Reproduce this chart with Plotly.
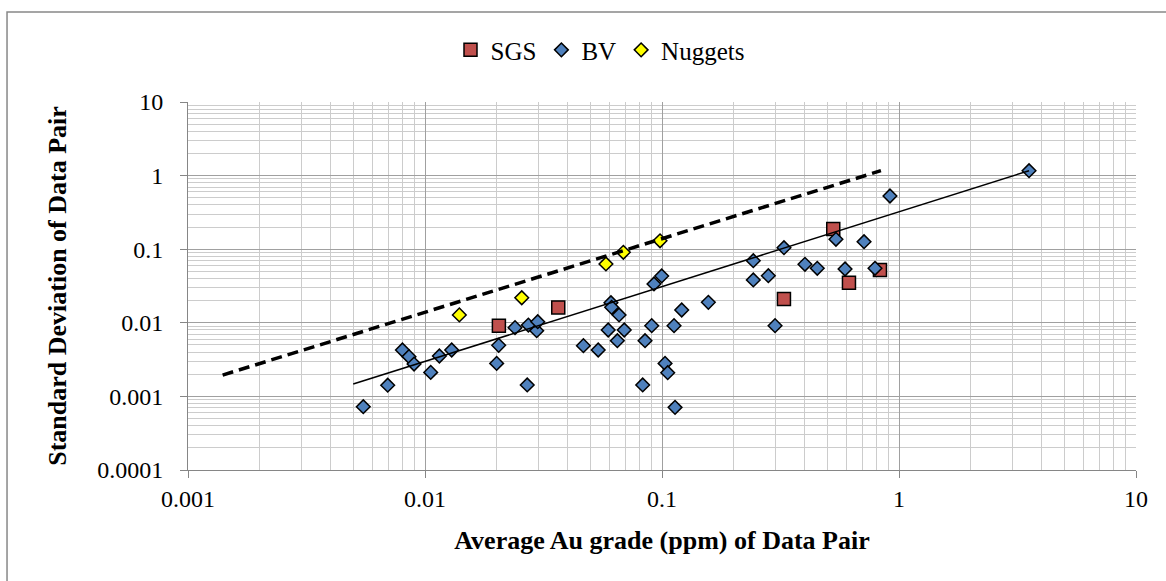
import plotly.graph_objects as go

# ---- data ----
sgs_x = [0.0205, 0.0365, 0.327, 0.528, 0.615, 0.831]
sgs_y = [0.00914, 0.0162, 0.0211, 0.188, 0.0351, 0.0521]

bv_x = [0.00549, 0.00696, 0.00803, 0.00856, 0.00899, 0.01057, 0.0115, 0.01296,
        0.02006, 0.02046, 0.02398, 0.0270, 0.0273, 0.0296, 0.0299, 0.0466,
        0.0538, 0.0593, 0.0609, 0.0613, 0.0659, 0.0648, 0.0693, 0.0829,
        0.0848, 0.0905, 0.0925, 0.0997, 0.1030, 0.1057, 0.1135, 0.1124,
        0.1211, 0.1569, 0.2428, 0.2428, 0.2810, 0.3271, 0.2999, 0.401,
        0.452, 0.542, 0.592, 0.712, 0.792, 0.916, 3.537]
bv_y = [0.000724, 0.00142, 0.00427, 0.00347, 0.00275, 0.00212, 0.00354, 0.00427,
        0.00281, 0.00494, 0.00859, 0.00143, 0.00933, 0.00782, 0.01035, 0.00489,
        0.00427, 0.00798, 0.01875, 0.01622, 0.01277, 0.00571, 0.00798, 0.00143,
        0.00571, 0.00914, 0.0337, 0.0433, 0.00281, 0.0021, 0.00071, 0.00914,
        0.01493, 0.01897, 0.0698, 0.0382, 0.0436, 0.1048, 0.00914, 0.0624,
        0.0550, 0.1363, 0.0538, 0.1264, 0.0550, 0.528, 1.166]

nug_x = [0.01396, 0.0256, 0.058, 0.0687, 0.0981]
nug_y = [0.0128, 0.0219, 0.063, 0.0908, 0.130]

trend_x = [0.00498, 3.537]
trend_y = [0.00147, 1.166]

upper_x = [0.0014, 0.839]
upper_y = [0.00195, 1.166]

x_tickvals = [0.001, 0.01, 0.1, 1, 10]
x_ticktext = ["0.001", "0.01", "0.1", "1", "10"]
y_tickvals = [0.0001, 0.001, 0.01, 0.1, 1, 10]
y_ticktext = ["0.0001", "0.001", "0.01", "0.1", "1", "10"]

FONT = "Liberation Serif"

fig = go.Figure()
fig.add_trace(go.Scatter(x=sgs_x, y=sgs_y, mode="markers", name="SGS",
                         marker=dict(symbol="square", size=13, color="#C0504D",
                                     line=dict(color="black", width=1.5))))
fig.add_trace(go.Scatter(x=bv_x, y=bv_y, mode="markers", name="BV",
                         marker=dict(symbol="diamond", size=10.5, color="#4F81BD",
                                     line=dict(color="black", width=1.5))))
fig.add_trace(go.Scatter(x=nug_x, y=nug_y, mode="markers", name="Nuggets",
                         marker=dict(symbol="diamond", size=10.5, color="#FFFF00",
                                     line=dict(color="black", width=1.5))))
fig.add_trace(go.Scatter(x=trend_x, y=trend_y, mode="lines", showlegend=False,
                         line=dict(color="black", width=1.5), hoverinfo="skip"))
fig.add_trace(go.Scatter(x=upper_x, y=upper_y, mode="lines", showlegend=False,
                         line=dict(color="black", width=3.5, dash="11px,6px"),
                         hoverinfo="skip"))

axis_common = dict(
    type="log", tickmode="array", showgrid=True, gridcolor="#a0a0a0", gridwidth=1,
    ticks="outside", ticklen=7, tickcolor="#868686", tickwidth=1,
    showline=True, linecolor="#868686", linewidth=1, zeroline=False,
    tickfont=dict(family=FONT, size=24, color="black"),
    minor=dict(dtick="D1", showgrid=True, gridcolor="#cccccc", gridwidth=1, ticks=""),
)

fig.update_layout(
    width=1166, height=581,
    margin=dict(l=188, r=30, t=102, b=111),
    paper_bgcolor="white", plot_bgcolor="white",
    font=dict(family=FONT, color="black"),
    xaxis=dict(axis_common, range=[-3, 1], tickvals=x_tickvals, ticktext=x_ticktext,
               title=dict(text="<b>Average Au grade (ppm) of Data Pair</b>",
                          font=dict(family=FONT, size=26), standoff=20)),
    yaxis=dict(axis_common, range=[-4, 1], tickvals=y_tickvals, ticktext=y_ticktext,
               ticklabelstandoff=12,
               title=dict(text="<b>Standard Deviation of Data Pair</b>",
                          font=dict(family=FONT, size=26), standoff=23)),
    legend=dict(orientation="h", x=0.4346, xanchor="center", y=1.141, yanchor="middle",
                font=dict(family=FONT, size=25), itemwidth=30,
                bgcolor="rgba(0,0,0,0)", tracegroupgap=0),
    showlegend=True,
    shapes=[dict(type="rect", xref="paper", yref="paper",
                 x0=-0.1909, x1=1.2, y0=-0.6, y1=1.2446,
                 line=dict(color="#888888", width=1.5), fillcolor="rgba(0,0,0,0)",
                 layer="below")],
)

fig.write_html("out.html")
